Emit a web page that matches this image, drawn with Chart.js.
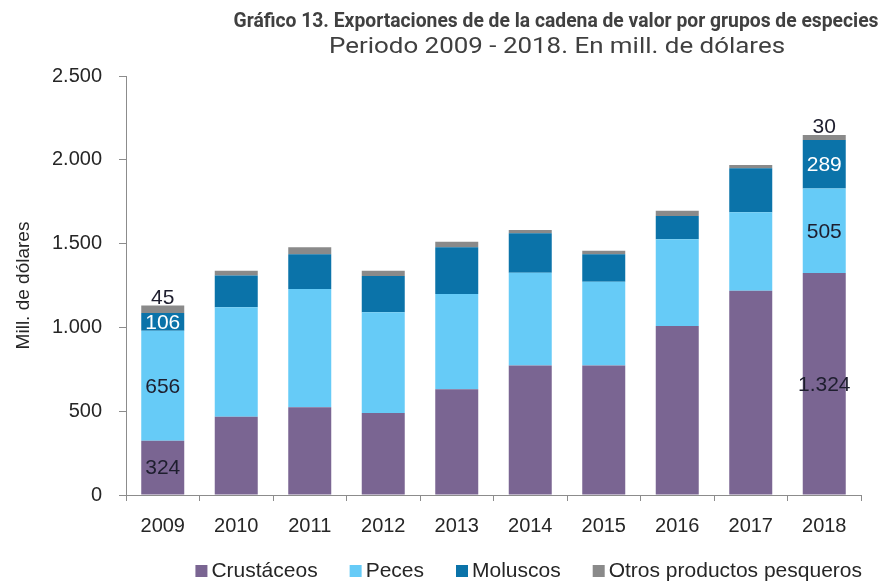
<!DOCTYPE html>
<html>
<head>
<meta charset="utf-8">
<script src="https://cdn.jsdelivr.net/npm/chart.js@4"></script>
<style>
  html, body { margin: 0; padding: 0; background: #fff; }
  #wrap { width: 883px; height: 584px; }
</style>
</head>
<body>
<div id="wrap"><canvas id="chart"></canvas></div>
<script>
const years = ['2009', '2010', '2011', '2012', '2013', '2014', '2015', '2016', '2017', '2018'];
const crustaceos = [324, 467, 523, 489, 631, 772, 772, 1008, 1219, 1324];
const peces = [656, 653, 706, 601, 568, 554, 501, 518, 468, 505];
const moluscos = [106, 189, 207, 217, 279, 236, 163, 139, 262, 289];
const otros = [45, 29, 42, 31, 33, 19, 22, 31, 20, 30];
const yTicks = [0, 500, 1000, 1500, 2000, 2500];
// only these bars carry value labels in the original
const labeledYears = ['2009', '2018'];

const titleText = 'Gráfico 13. Exportaciones de de la cadena de valor por grupos de especies';
const subtitleText = 'Periodo 2009 - 2018. En mill. de dólares';

function fmt(v) {
  return String(v).replace(/\B(?=(\d{3})+(?!\d))/g, '.');
}

function drawSquashed(ctx, text, font, cx, cy, width) {
  ctx.font = font;
  const k = width / ctx.measureText(text).width;
  ctx.save();
  ctx.translate(cx, cy);
  ctx.scale(k, 1);
  ctx.fillText(text, 0, 0);
  ctx.restore();
}

const header = {
  id: 'header',
  afterDraw(chart) {
    const ctx = chart.ctx;
    ctx.save();
    ctx.fillStyle = '#404040';
    ctx.textAlign = 'center';
    ctx.textBaseline = 'middle';
    drawSquashed(ctx, titleText, 'bold 21px Roboto', 556, 22, 645);
    drawSquashed(ctx, subtitleText, '22px Roboto', 557, 47, 456);
    ctx.restore();
  }
};

const bottomLegend = {
  id: 'bottomLegend',
  afterDraw(chart) {
    const ctx = chart.ctx;
    ctx.save();
    ctx.font = '21px "Liberation Sans"';
    const box = 12, gap = 4, space = 32;
    const items = chart.data.datasets.map(ds => ({
      text: ds.label, color: ds.backgroundColor, w: ctx.measureText(ds.label).width
    }));
    const total = items.reduce((s, it) => s + box + gap + it.w, 0) + space * (items.length - 1);
    let x = chart.chartArea.right + 1 - total;
    const y = 571;
    ctx.textBaseline = 'middle';
    items.forEach(it => {
      ctx.fillStyle = it.color;
      ctx.fillRect(x, y - box / 2, box, box);
      ctx.fillStyle = '#262626';
      ctx.fillText(it.text, x + box + gap, y);
      x += box + gap + it.w + space;
    });
    ctx.restore();
  }
};

const valueLabels = {
  id: 'valueLabels',
  afterDatasetsDraw(chart) {
    const ctx = chart.ctx;
    const last = chart.data.datasets.length - 1;
    ctx.save();
    ctx.font = '21px "Liberation Sans"';
    ctx.textAlign = 'center';
    chart.data.datasets.forEach((ds, di) => {
      const meta = chart.getDatasetMeta(di);
      labeledYears.forEach(yr => {
        const i = chart.data.labels.indexOf(yr);
        const bar = meta.data[i];
        ctx.fillStyle = ds.labelColor;
        if (di === last) {
          ctx.textBaseline = 'bottom';
          ctx.fillText(fmt(ds.data[i]), bar.x, bar.y + 3);
        } else {
          ctx.textBaseline = 'middle';
          ctx.fillText(fmt(ds.data[i]), bar.x, (bar.y + bar.base) / 2 + 1);
        }
      });
    });
    ctx.restore();
  }
};

const axisColor = '#8c8c8c';
const tickFont = { family: 'Liberation Sans', size: 20 };

new Chart(document.getElementById('chart'), {
  type: 'bar',
  data: {
    labels: years,
    datasets: [
      { label: 'Crustáceos', data: crustaceos, backgroundColor: '#7a6592', labelColor: '#1e1e2e' },
      { label: 'Peces', data: peces, backgroundColor: '#66cbf7', labelColor: '#1e1e2e' },
      { label: 'Moluscos', data: moluscos, backgroundColor: '#0b73a9', labelColor: '#ffffff' },
      { label: 'Otros productos pesqueros', data: otros, backgroundColor: '#8a8a8a', labelColor: '#1e1e2e' }
    ]
  },
  options: {
    responsive: true,
    maintainAspectRatio: false,
    animation: false,
    categoryPercentage: 1,
    barPercentage: 0.585,
    layout: { padding: { top: 76, left: 8, right: 22, bottom: 33 } },
    plugins: {
      legend: { display: false },
      tooltip: { enabled: false }
    },
    scales: {
      x: {
        stacked: true,
        grid: { drawOnChartArea: false, tickLength: 6, color: axisColor, offset: true },
        border: { color: axisColor },
        ticks: { color: '#262626', font: tickFont, padding: 13 }
      },
      y: {
        stacked: true,
        min: yTicks[0],
        max: yTicks[yTicks.length - 1],
        afterBuildTicks(scale) { scale.ticks = yTicks.map(v => ({ value: v })); },
        afterFit(scale) { scale.width = 118; },
        grid: { drawOnChartArea: false, tickLength: 7, color: axisColor },
        border: { color: axisColor },
        ticks: { color: '#262626', font: tickFont, padding: 17, callback: v => fmt(v) },
        title: {
          display: true,
          text: 'Mill. de dólares',
          color: '#262626',
          font: { family: 'Liberation Sans', size: 19 },
          padding: { top: 4, bottom: 4 }
        }
      }
    }
  },
  plugins: [header, bottomLegend, valueLabels]
});
</script>
</body>
</html>
